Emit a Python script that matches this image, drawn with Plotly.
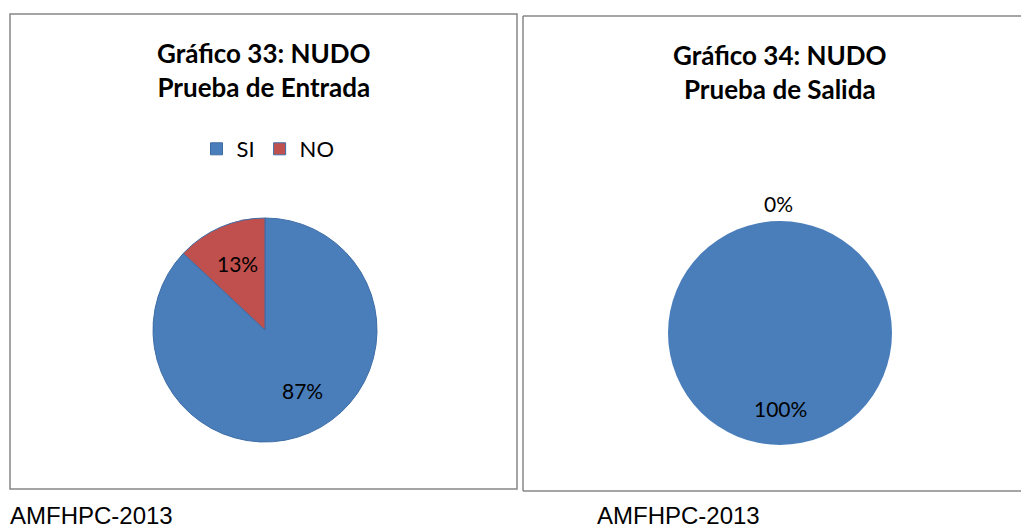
import plotly.graph_objects as go

categories = ["SI", "NO"]
entrada_values = [87, 13]
salida_values = [100, 0]
titles = ["<b>Gráfico 33: NUDO<br>Prueba de Entrada</b>", "<b>Gráfico 34: NUDO<br>Prueba de Salida</b>"]
source = "AMFHPC-2013"

W, H = 1021, 528
def px(x):
    return x / W
def py(y):
    return 1 - y / H

colors = ["#4A7EBB", "#C0504D"]
font_fam = "Lato, 'Open Sans', sans-serif"

def pct(vals, i):
    return f"{round(vals[i] / sum(vals) * 100):.0f}%"

fig = go.Figure()

fig.add_trace(go.Pie(
    labels=categories, values=entrada_values, sort=False, direction="clockwise", rotation=0,
    marker=dict(colors=colors, line=dict(color="#3D6CA5", width=1)),
    textinfo="none",
    domain=dict(x=[px(153), px(377)], y=[py(442), py(218)]),
    legend="legend", showlegend=True, hoverinfo="label+percent",
))
fig.add_trace(go.Pie(
    labels=categories, values=salida_values, sort=False, direction="clockwise", rotation=0,
    marker=dict(colors=colors, line=dict(width=0)),
    textinfo="none",
    domain=dict(x=[px(668), px(892)], y=[py(445), py(221)]),
    legend="legend2", showlegend=True, hoverinfo="label+percent",
))

border = dict(color="#878787", width=1.5)
shapes = [
    dict(type="rect", xref="paper", yref="paper", x0=px(10), x1=px(517), y0=py(489), y1=py(14),
         line=border, fillcolor="rgba(0,0,0,0)"),
    dict(type="line", xref="paper", yref="paper", x0=px(523), x1=px(1021), y0=py(16), y1=py(16), line=border),
    dict(type="line", xref="paper", yref="paper", x0=px(523), x1=px(1021), y0=py(491), y1=py(491), line=border),
    dict(type="line", xref="paper", yref="paper", x0=px(523), x1=px(523), y0=py(16), y1=py(491), line=border),
]

lab_font = dict(size=21, color="black", family=font_fam)
annotations = [
    dict(text=titles[0], x=px(264), y=py(70), xref="paper", yref="paper", showarrow=False,
         xanchor="center", yanchor="middle",
         font=dict(size=26, color="black", family=font_fam), align="center"),
    dict(text=titles[1], x=px(780), y=py(72), xref="paper", yref="paper", showarrow=False,
         xanchor="center", yanchor="middle",
         font=dict(size=26, color="black", family=font_fam), align="center"),
    dict(text=pct(entrada_values, 1), x=px(237), y=py(263), xref="paper", yref="paper", showarrow=False,
         xanchor="center", yanchor="middle", font=lab_font),
    dict(text=pct(entrada_values, 0), x=px(302), y=py(390), xref="paper", yref="paper", showarrow=False,
         xanchor="center", yanchor="middle", font=lab_font),
    dict(text=pct(salida_values, 1), x=px(778), y=py(203), xref="paper", yref="paper", showarrow=False,
         xanchor="center", yanchor="middle", font=lab_font),
    dict(text=pct(salida_values, 0), x=px(780), y=py(408), xref="paper", yref="paper", showarrow=False,
         xanchor="center", yanchor="middle", font=lab_font),
    dict(text=source, x=px(8), y=py(515), xref="paper", yref="paper", showarrow=False,
         xanchor="left", yanchor="middle",
         font=dict(size=24, color="black", family="Liberation Sans, Arial, sans-serif")),
    dict(text=source, x=px(595), y=py(515), xref="paper", yref="paper", showarrow=False,
         xanchor="left", yanchor="middle",
         font=dict(size=24, color="black", family="Liberation Sans, Arial, sans-serif")),
]

fig.update_layout(
    width=W, height=H, margin=dict(l=0, r=0, t=0, b=0),
    paper_bgcolor="white", plot_bgcolor="white",
    shapes=shapes, annotations=annotations,
    legend=dict(orientation="h", x=px(268), xanchor="center", y=py(149), yanchor="middle",
                font=dict(size=22, family=font_fam, color="black"), itemwidth=30, bgcolor="rgba(0,0,0,0)"),
    legend2=dict(orientation="h", x=px(785), xanchor="center", y=py(150), yanchor="middle",
                 font=dict(size=22, family=font_fam, color="black"), itemwidth=30, bgcolor="rgba(0,0,0,0)"),
)

fig.write_html("out.html", config={"displayModeBar": False},
               post_script="document.body.style.margin='0';document.body.style.overflow='hidden';")
